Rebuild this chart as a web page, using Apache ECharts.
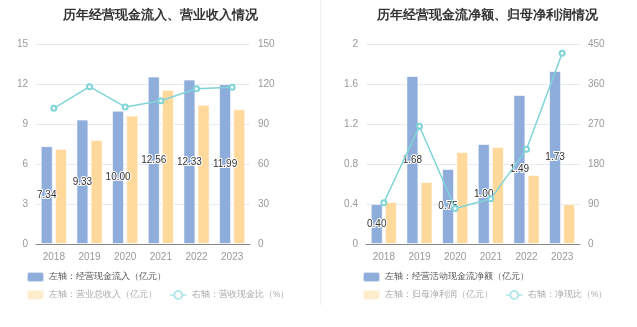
<!DOCTYPE html>
<html><head><meta charset="utf-8">
<script src="https://cdn.jsdelivr.net/npm/echarts@6/dist/echarts.min.js"></script>
<style>html,body{margin:0;padding:0;background:#fff}#c{width:637px;height:327px}</style>
</head><body><div id="c"></div>
<script>
const years = ['2018','2019','2020','2021','2022','2023'];
// left chart
const cashInflow = [7.34, 9.33, 10.00, 12.56, 12.33, 11.99];
const revenue = [7.13, 7.80, 9.63, 11.55, 10.45, 10.10];
const cashRevRatio = [101.8, 118.0, 102.8, 107.5, 116.5, 117.5];
// right chart
const netCashFlow = [0.40, 1.68, 0.75, 1.00, 1.49, 1.73];
const netProfit = [0.42, 0.62, 0.92, 0.97, 0.69, 0.40];
const netCashRatio = [93, 265, 80, 102, 213, 429];

const leftTicks = {min:0, max:15, interval:3};
const leftRTicks = {min:0, max:150, interval:30};
const rightTicks = {min:0, max:2, interval:0.4};
const rightRTicks = {min:0, max:450, interval:90};

const BLUE = '#8eaddb', ORANGE = '#ffd99b', LINE = '#7fd4d8', FADE_LINE = '#b2e6e9';
const FONT = 'sans-serif';

function xAx(gi){return {type:'category', gridIndex:gi, data:years,
  axisLine:{lineStyle:{color:'#888'}}, axisTick:{alignWithLabel:true, length:4, lineStyle:{color:'#888'}},
  axisLabel:{color:'#999', fontSize:10, margin:8, fontFamily:FONT}};}
function yAx(gi, t, show){return Object.assign({type:'value', gridIndex:gi,
  axisLine:{show:false}, axisTick:{show:false},
  axisLabel:{color:'#999', fontSize:10, margin:8, fontFamily:FONT, formatter:v=>String(Math.round(v*10)/10)},
  splitLine:{show:show, lineStyle:{color:'#e8eaf2'}}}, t);}

const labelCfg = {show:true, position:'inside', color:'#333', fontSize:10, fontFamily:FONT,
  textBorderColor:'#fff', textBorderWidth:2, formatter:p=>p.value.toFixed(2)};

const lineLegendStyle = {itemStyle:{color:FADE_LINE, borderColor:FADE_LINE, borderWidth:1.5}, lineStyle:{color:FADE_LINE, width:1.5}};
const LEG_FS = 8.7;

const option = {
  animation:false,
  title:[
    {text:'历年经营现金流入、营业收入情况', left:155, top:4, textAlign:'center',
     textStyle:{fontSize:13, fontWeight:'bold', color:'#333', fontFamily:FONT}},
    {text:'历年经营现金流净额、归母净利润情况', left:482, top:4, textAlign:'center',
     textStyle:{fontSize:13, fontWeight:'bold', color:'#333', fontFamily:FONT}}
  ],
  graphic:[{type:'line', shape:{x1:320.5,y1:0,x2:320.5,y2:305}, style:{stroke:'#eeeeee', lineWidth:1}}],
  grid:[
    {left:36, right:387, top:44, bottom:83},
    {left:366, right:57, top:44, bottom:83}
  ],
  legend:[
    {left:21, top:266, itemWidth:17, itemHeight:10, itemGap:12,
     textStyle:{color:'#555', fontSize:LEG_FS, fontFamily:FONT},
     data:[{name:'左轴：经营现金流入（亿元）', itemStyle:{color:BLUE}}]},
    {left:21, top:284, itemWidth:17, itemHeight:10, itemGap:12,
     textStyle:{color:'#aaa', fontSize:LEG_FS, fontFamily:FONT},
     data:[{name:'左轴：营业总收入（亿元）', itemStyle:{color:'#ffeccd'}},
           Object.assign({name:'右轴：营收现金比（%）'}, lineLegendStyle)]},
    {left:357, top:266, width:280, itemWidth:17, itemHeight:10, itemGap:12,
     textStyle:{color:'#555', fontSize:LEG_FS, fontFamily:FONT},
     data:[{name:'左轴：经营活动现金流净额（亿元）', itemStyle:{color:BLUE}}]},
    {left:357, top:284, width:280, itemWidth:17, itemHeight:10, itemGap:12,
     textStyle:{color:'#aaa', fontSize:LEG_FS, fontFamily:FONT},
     data:[{name:'左轴：归母净利润（亿元）', itemStyle:{color:'#ffeccd'}},
           Object.assign({name:'右轴：净现比（%）'}, lineLegendStyle)]}
  ],
  xAxis:[xAx(0), xAx(1)],
  yAxis:[yAx(0,leftTicks,true), yAx(0,leftRTicks,false), yAx(1,rightTicks,true), yAx(1,rightRTicks,false)],
  series:[
    {name:'左轴：经营现金流入（亿元）', type:'bar', xAxisIndex:0, yAxisIndex:0, data:cashInflow,
     barWidth:12, barGap:'18%', itemStyle:{color:BLUE, borderColor:'rgba(255,255,255,0.6)', borderWidth:1}, label:labelCfg, z:2},
    {name:'左轴：营业总收入（亿元）', type:'bar', xAxisIndex:0, yAxisIndex:0, data:revenue,
     barWidth:12, barGap:'18%', itemStyle:{color:ORANGE, borderColor:'rgba(255,255,255,0.6)', borderWidth:1}},
    {name:'右轴：营收现金比（%）', type:'line', xAxisIndex:0, yAxisIndex:1, data:cashRevRatio,
     symbol:'emptyCircle', symbolSize:5, lineStyle:{color:LINE, width:1.5}, itemStyle:{color:LINE}, z:3},
    {name:'左轴：经营活动现金流净额（亿元）', type:'bar', xAxisIndex:1, yAxisIndex:2, data:netCashFlow,
     barWidth:12, barGap:'18%', itemStyle:{color:BLUE, borderColor:'rgba(255,255,255,0.6)', borderWidth:1}, label:labelCfg, z:2},
    {name:'左轴：归母净利润（亿元）', type:'bar', xAxisIndex:1, yAxisIndex:2, data:netProfit,
     barWidth:12, barGap:'18%', itemStyle:{color:ORANGE, borderColor:'rgba(255,255,255,0.6)', borderWidth:1}},
    {name:'右轴：净现比（%）', type:'line', xAxisIndex:1, yAxisIndex:3, data:netCashRatio,
     symbol:'emptyCircle', symbolSize:5, lineStyle:{color:LINE, width:1.5}, itemStyle:{color:LINE}, z:3}
  ]
};
const chart = echarts.init(document.getElementById('c'), null, {renderer:'canvas'});
chart.setOption(option);
</script></body></html>
